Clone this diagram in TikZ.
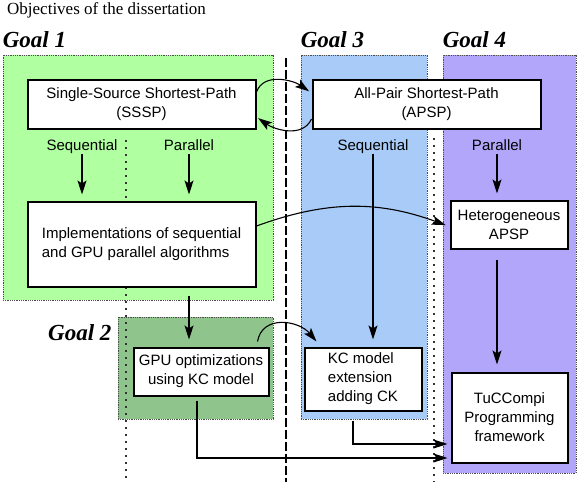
\documentclass[tikz,border=0pt]{standalone}
\usepackage{fontspec}
\setmainfont{Liberation Serif}
\setsansfont{Liberation Sans}
\usepackage{tikz}
\usetikzlibrary{arrows.meta,positioning,calc}
\usepackage{xcolor}
\definecolor{goalone}{RGB}{176,255,160}
\definecolor{goaltwo}{RGB}{143,196,140}
\definecolor{goalthree}{RGB}{168,204,247}
\definecolor{goalfour}{RGB}{178,166,250}
\tikzset{
  % coloured goal area
  goalarea/.style={rectangle, draw=black!70, densely dotted, line width=0.8pt, fill=#1, inner sep=0pt},
  goalarea/.default={white},
  % goal title
  goaltitle/.style={font=\fontsize{23}{23}\selectfont\bfseries\itshape, inner sep=0pt},
  % white task box
  wbox/.style={rectangle, draw, line width=2pt, fill=white, font=\sffamily\fontsize{15}{19}\selectfont,
               align=center, inner sep=0pt},
  % column label
  collabel/.style={font=\sffamily\fontsize{15}{19}\selectfont, text height=11pt, text depth=3pt, inner sep=1pt},
  % flow arrow
  flow/.style={-{Stealth[length=14pt,width=9pt,inset=3pt]}, line width=1.1pt},
  % column separators
  coldots/.style={line width=1.6pt, dash pattern=on 1.6pt off 5.4pt, black!80},
  coldash/.style={line width=1.6pt, dash pattern=on 9pt off 3pt},
}

\begin{document}
\begin{tikzpicture}[x=1pt,y=1pt]
  \useasboundingbox (0,0) rectangle (583,-482);
  \node[anchor=base west, font=\fontsize{17}{20}\selectfont, inner sep=0pt] (title) at (7,-14) {Objectives of the dissertation};

  % Goal areas
  \node[goalarea=goalone, minimum width=270pt, minimum height=245pt] (area1) at (138,-177.5) {};
  \node[goalarea=goaltwo, minimum width=155pt, minimum height=102pt] (area2) at (195.5,-368) {};
  \node[goalarea=goalthree, minimum width=126pt, minimum height=364pt] (area3) at (364,-237) {};
  \node[goalarea=goalfour, minimum width=133pt, minimum height=418pt] (area4) at (509.5,-264) {};

  \node[goaltitle, anchor=base west] (goal1) at ([yshift=7pt]area1.north west) {Goal 1};
  \node[goaltitle, anchor=base east] (goal2) at ([xshift=-6pt,yshift=-24pt]area2.north west) {Goal 2};
  \node[goaltitle, anchor=base west] (goal3) at ([yshift=7pt]area3.north west) {Goal 3};
  \node[goaltitle, anchor=base west] (goal4) at ([yshift=7pt]area4.north west) {Goal 4};

  % Separators
  \coordinate (sepAtop) at (126,-140);
  \coordinate (sepAbot) at (126,-482);
  \coordinate (sepBtop) at (434,-138);
  \coordinate (sepBbot) at (434,-482);
  \coordinate (divtop) at (286,-58);
  \coordinate (divbot) at (286,-482);
  \draw[coldots] (sepAtop) -- (sepAbot);
  \draw[coldots] (sepBtop) -- (sepBbot);
  \draw[coldash] (divtop) -- (divbot);

  % Boxes
  \node[wbox, minimum width=228pt, minimum height=49pt] (sssp) at (141.5,-104) {Single-Source Shortest-Path\\(SSSP)};
  \node[wbox, minimum width=228pt, minimum height=49pt] (apsp) at (426.5,-104) {All-Pair Shortest-Path\\(APSP)};
  \node[wbox, minimum width=228pt, minimum height=85pt, align=left] (impl) at (141.5,-244) {Implementations of sequential\\and GPU parallel algorithms};
  \node[wbox, minimum width=117pt, minimum height=48pt] (het) at (509,-224.5) {Heterogeneous\\APSP};
  \node[wbox, minimum width=135pt, minimum height=48pt] (gpu) at (201,-371.5) {GPU optimizations\\using KC model};
  \node[wbox, minimum width=117pt, minimum height=63pt, align=left] (kc) at (363,-379) {KC model\\extension\\adding CK};
  \node[wbox, minimum width=116pt, minimum height=90pt] (tuc) at (509.5,-417.5) {TuCCompi\\Programming\\framework};

  % Column labels
  \node[collabel] (seq1) at (82,-146) {Sequential};
  \node[collabel] (par1) at (189,-146) {Parallel};
  \node[collabel] (seq3) at (373,-146) {Sequential};
  \node[collabel] (par4) at (497,-146) {Parallel};

  % Straight arrows
  \draw[flow, shorten >=6pt] (seq1.south) -- (seq1.south |- impl.north);
  \draw[flow, shorten >=6pt] (par1.south) -- (par1.south |- impl.north);
  \draw[flow, shorten >=7pt] (seq3.south) -- (seq3.south |- kc.north);
  \draw[flow, shorten >=6pt] (par4.south) -- (par4.south |- het.north);
  \draw[flow, shorten <=10pt, shorten >=7pt] (par4 |- het.south) -- (par4 |- tuc.north);
  \draw[flow, shorten <=8pt, shorten >=7pt] (par1 |- impl.south) -- (par1 |- gpu.north);

  % Curved arrows
  \draw[flow, shorten >=3pt] ([yshift=12pt]sssp.east) to[out=70,in=145] ([yshift=11pt]apsp.west);
  \draw[flow, shorten >=2pt] ([yshift=-15pt]apsp.west) to[out=-115,in=-35] ([yshift=-13pt]sssp.east);
  \draw[flow, shorten >=4pt] ([yshift=18pt]impl.east) to[out=20,in=160] ([yshift=-2pt]het.west);
  \draw[flow] ([xshift=-12pt,yshift=5pt]gpu.north east) to[out=80,in=130,looseness=1.2] ([xshift=13pt,yshift=5pt]kc.north west);

  % Elbows into TuCCompi
  \draw[flow, shorten <=4pt, shorten >=3pt] ([xshift=-4pt]gpu.south) |- ([yshift=-40.5pt]tuc.west);
  \draw[flow, shorten <=9pt, shorten >=3pt] ([xshift=-10pt]kc.south) |- ([yshift=-26.5pt]tuc.west);
\end{tikzpicture}
\end{document}
